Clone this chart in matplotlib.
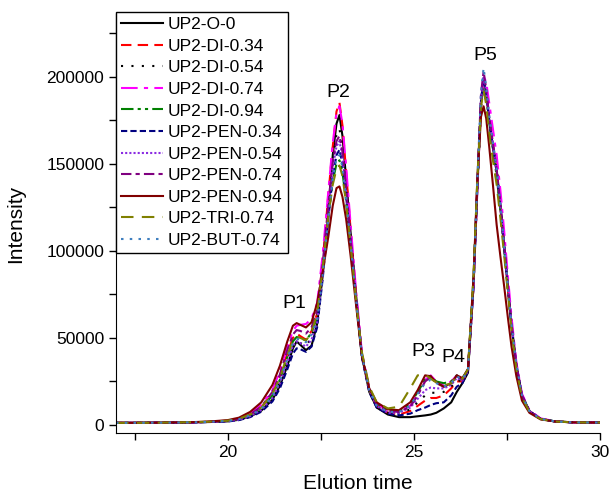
import matplotlib

matplotlib.use("Agg")
import matplotlib.pyplot as plt
import numpy as np
from matplotlib.ticker import MultipleLocator

plt.rcParams["font.family"] = ["Liberation Sans", "DejaVu Sans"]

# Elution time grid shared by all traces (minutes)
time = [
    17.0, 18.0, 19.0, 19.5, 20.0, 20.3, 20.6, 20.9, 21.2, 21.4, 21.6, 21.75,
    21.85, 21.95, 22.1, 22.25, 22.4, 22.55, 22.7, 22.82, 22.92, 23.0, 23.08,
    23.18, 23.3, 23.45, 23.6, 23.8, 24.0, 24.3, 24.6, 24.9, 25.1, 25.3, 25.45,
    25.6, 25.8, 26.0, 26.15, 26.3, 26.45, 26.6, 26.7, 26.8, 26.87, 26.94,
    27.02, 27.12, 27.22, 27.32, 27.42, 27.52, 27.62, 27.75, 27.9, 28.1, 28.4,
    28.8, 29.3, 30.0,
]

# Intensities in thousands
o_0 = [
    1.2, 1.3, 1.5, 1.7, 2.1, 3.0, 4.8, 8.2, 14.5, 22.5, 34, 44, 48, 46, 43, 45.5,
    58, 86, 124, 155, 173, 178, 166, 141, 110, 73, 40, 19,
    10, 6, 4.5, 4.5, 5, 5.5, 6, 7, 9.5, 13, 19, 24, 30,
    80, 135, 185, 199, 190, 175, 160, 146, 126, 104, 80, 58, 34, 17, 8, 3.5, 2, 1.5, 1.4,
]
di_034 = [
    1.2, 1.3, 1.5, 1.8, 2.4, 3.5, 5.8, 10, 18, 28, 41, 50, 52.5, 51, 49, 54,
    64, 94, 132, 160, 180, 185, 172, 145, 112, 74, 40, 20,
    11, 7, 6, 8, 11, 14, 15.5, 15.5, 17, 21, 25, 25, 31,
    82, 137, 184, 197, 190, 176, 161, 146, 125, 103, 79, 57, 34, 17, 8, 3.5, 2, 1.5, 1.4,
]
di_054 = [
    1.2, 1.3, 1.5, 1.8, 2.2, 3.2, 5.2, 9, 16, 25, 37, 46, 48, 47, 45.5, 50,
    62, 90, 126, 152, 167, 170, 160, 138, 108, 72, 40, 20,
    11, 7, 6.5, 9, 13, 17, 18.5, 18.5, 19, 22, 26, 25, 31,
    80, 134, 182, 196, 190, 177, 163, 148, 127, 105, 80, 58, 34, 17, 8, 3.5, 2, 1.5, 1.4,
]
di_074 = [
    1.2, 1.3, 1.5, 1.8, 2.5, 3.8, 6.5, 11.5, 20, 31, 45, 54, 57, 57.5, 58, 61,
    70, 98, 134, 162, 179, 183, 173, 148, 115, 76, 42, 21,
    12, 8.5, 8, 11, 18, 26, 28.5, 25, 23, 25, 28.5, 26, 32,
    80, 134, 184, 200, 197, 185, 170, 155, 135, 112, 86, 62, 36, 18, 8.5, 3.8, 2.1, 1.5, 1.4,
]
di_094 = [
    1.2, 1.3, 1.5, 1.8, 2.3, 3.4, 5.5, 9.5, 17, 26, 39, 48, 50.5, 50, 48.5, 53,
    62, 88, 120, 140, 150, 152, 145, 128, 104, 71, 40, 20,
    12, 8, 8, 12, 19, 26, 28, 25, 24, 25, 28.5, 26.5, 32,
    84, 138, 186, 198, 189, 174, 158, 143, 123, 101, 78, 56, 33, 17, 8, 3.5, 2, 1.5, 1.4,
]
pen_034 = [
    1.2, 1.3, 1.4, 1.7, 2.0, 2.8, 4.5, 7.6, 13.5, 21, 32, 41, 44, 43.5, 42, 45,
    56, 84, 118, 143, 155, 158, 150, 131, 105, 71, 39, 19,
    10, 6.5, 5.5, 6.5, 8.5, 10, 11.5, 12.5, 13, 17, 22, 24, 31,
    80, 136, 186, 199, 190, 175, 160, 145, 125, 103, 79, 57, 34, 17, 8, 3.5, 2, 1.5, 1.4,
]
pen_054 = [
    1.2, 1.3, 1.5, 1.8, 2.2, 3.1, 5, 8.7, 15.5, 24, 36, 45.5, 48, 47, 45, 49,
    59, 87, 122, 148, 160, 163, 154, 134, 106, 72, 40, 20,
    11, 7, 7, 10, 15, 20, 21.5, 21, 21, 23, 27, 25.5, 31,
    81, 137, 187, 200, 191, 176, 161, 146, 126, 104, 80, 58, 35, 17, 8, 3.5, 2, 1.5, 1.4,
]
pen_074 = [
    1.2, 1.3, 1.5, 1.8, 2.4, 3.6, 6, 10.5, 19, 29, 43, 52, 54.5, 54, 52.5, 56,
    66, 93, 126, 151, 163, 166, 157, 136, 107, 72, 41, 21,
    12, 8, 7.5, 10.5, 17, 25, 27.5, 24, 22, 24, 28, 26, 32,
    82, 139, 190, 203, 193, 177, 162, 147, 127, 104, 80, 58, 35, 17, 8, 3.5, 2, 1.5, 1.4,
]
pen_094 = [
    1.2, 1.3, 1.6, 2.0, 2.8, 4.2, 7.5, 13, 23, 34, 48, 57, 58.5, 57.5, 56, 59,
    70, 88, 108, 126, 136, 137, 131, 118, 97, 68, 40, 21,
    13, 9, 8.5, 13, 20, 28.5, 28, 24.5, 22, 24, 28.5, 27, 32,
    85, 140, 177, 183, 176, 160, 138, 115, 97, 80, 62, 45, 28, 14, 7, 3.2, 2, 1.5, 1.4,
]
tri_074 = [
    1.2, 1.3, 1.6, 1.9, 2.5, 3.6, 6, 10, 18, 27, 40, 48.5, 50.5, 50, 48.5, 53,
    64, 90, 120, 138, 147, 149, 143, 127, 103, 71, 42, 22,
    13, 9.5, 10.5, 21, 28.5, 29, 26.5, 24.5, 22.5, 24, 28, 26.5, 32,
    86, 140, 183, 192, 184, 168, 152, 138, 119, 98, 76, 55, 32, 16, 7.5, 3.4, 2, 1.5, 1.4,
]
but_074 = [
    1.2, 1.3, 1.5, 1.8, 2.3, 3.3, 5.4, 9.2, 16.5, 25.5, 38, 47, 49.5, 49, 47.5, 52,
    60, 86, 119, 142, 153, 155, 148, 130, 104, 71, 40, 20,
    11, 7.5, 7.5, 11, 18, 24, 26, 24, 22, 24, 28, 26, 32,
    82, 139, 191, 205, 194, 178, 162, 147, 127, 104, 80, 58, 35, 17, 8, 3.5, 2, 1.5, 1.4,
]

labels = [
    "UP2-O-0", "UP2-DI-0.34", "UP2-DI-0.54", "UP2-DI-0.74", "UP2-DI-0.94",
    "UP2-PEN-0.34", "UP2-PEN-0.54", "UP2-PEN-0.74", "UP2-PEN-0.94",
    "UP2-TRI-0.74", "UP2-BUT-0.74",
]
series = [
    o_0, di_034, di_054, di_074, di_094,
    pen_034, pen_054, pen_074, pen_094, tri_074, but_074,
]

peak_names = ["P1", "P2", "P3", "P4", "P5"]
peak_x = [21.78, 22.97, 25.25, 26.06, 26.92]
peak_y = [70000, 191000, 42000, 38500, 212000]

styles = [
    ("black", "-"),
    ("red", (0, (5, 3))),
    ("black", (0, (1, 4))),
    ("magenta", (0, (8, 3, 2, 3))),
    ("green", (0, (6, 2, 1.5, 2, 1.5, 2))),
    ("navy", (0, (3, 1.5))),
    ("blueviolet", (0, (1, 1))),
    ("purple", (0, (5, 2, 2, 2))),
    ("#800000", "-"),
    ("#808000", (0, (6, 4))),
    ("#3f7fbf", (0, (1.2, 3))),
]

fig = plt.figure(figsize=(6.09, 4.93), dpi=100)
ax = fig.add_axes([0.1905, 0.1217, 0.795, 0.85])

t = np.array(time)
for values, label, (color, ls) in zip(series, labels, styles):
    ax.plot(t, np.array(values) * 1000, color=color, linestyle=ls,
            linewidth=1.5, label=label)

for name, x, y in zip(peak_names, peak_x, peak_y):
    ax.text(x, y, name, fontsize=14, ha="center", va="center")

ax.set_xlim(17, 30)
ax.set_ylim(-4600, 236000)
ax.xaxis.set_major_locator(MultipleLocator(5))
ax.xaxis.set_minor_locator(MultipleLocator(2.5))
ax.yaxis.set_major_locator(MultipleLocator(50000))
ax.yaxis.set_minor_locator(MultipleLocator(25000))
ax.tick_params(which="major", direction="out", length=5, width=1, labelsize=12.5)
ax.tick_params(which="minor", direction="out", length=5, width=1)

ax.spines["top"].set_visible(False)
ax.spines["right"].set_visible(False)

ax.set_xlabel("Elution time", fontsize=15, labelpad=10)
ax.set_ylabel("Intensity", fontsize=15, labelpad=15)

leg = ax.legend(
    loc="upper left",
    bbox_to_anchor=(0.0, 1.005),
    fontsize=12.5,
    frameon=True,
    fancybox=False,
    framealpha=1,
    edgecolor="black",
    borderaxespad=0.0,
    labelspacing=0.37,
    handlelength=2.4,
    handletextpad=0.3,
    borderpad=0.3,
)
leg.get_frame().set_linewidth(1.0)

fig.savefig("out.png", dpi=100)
